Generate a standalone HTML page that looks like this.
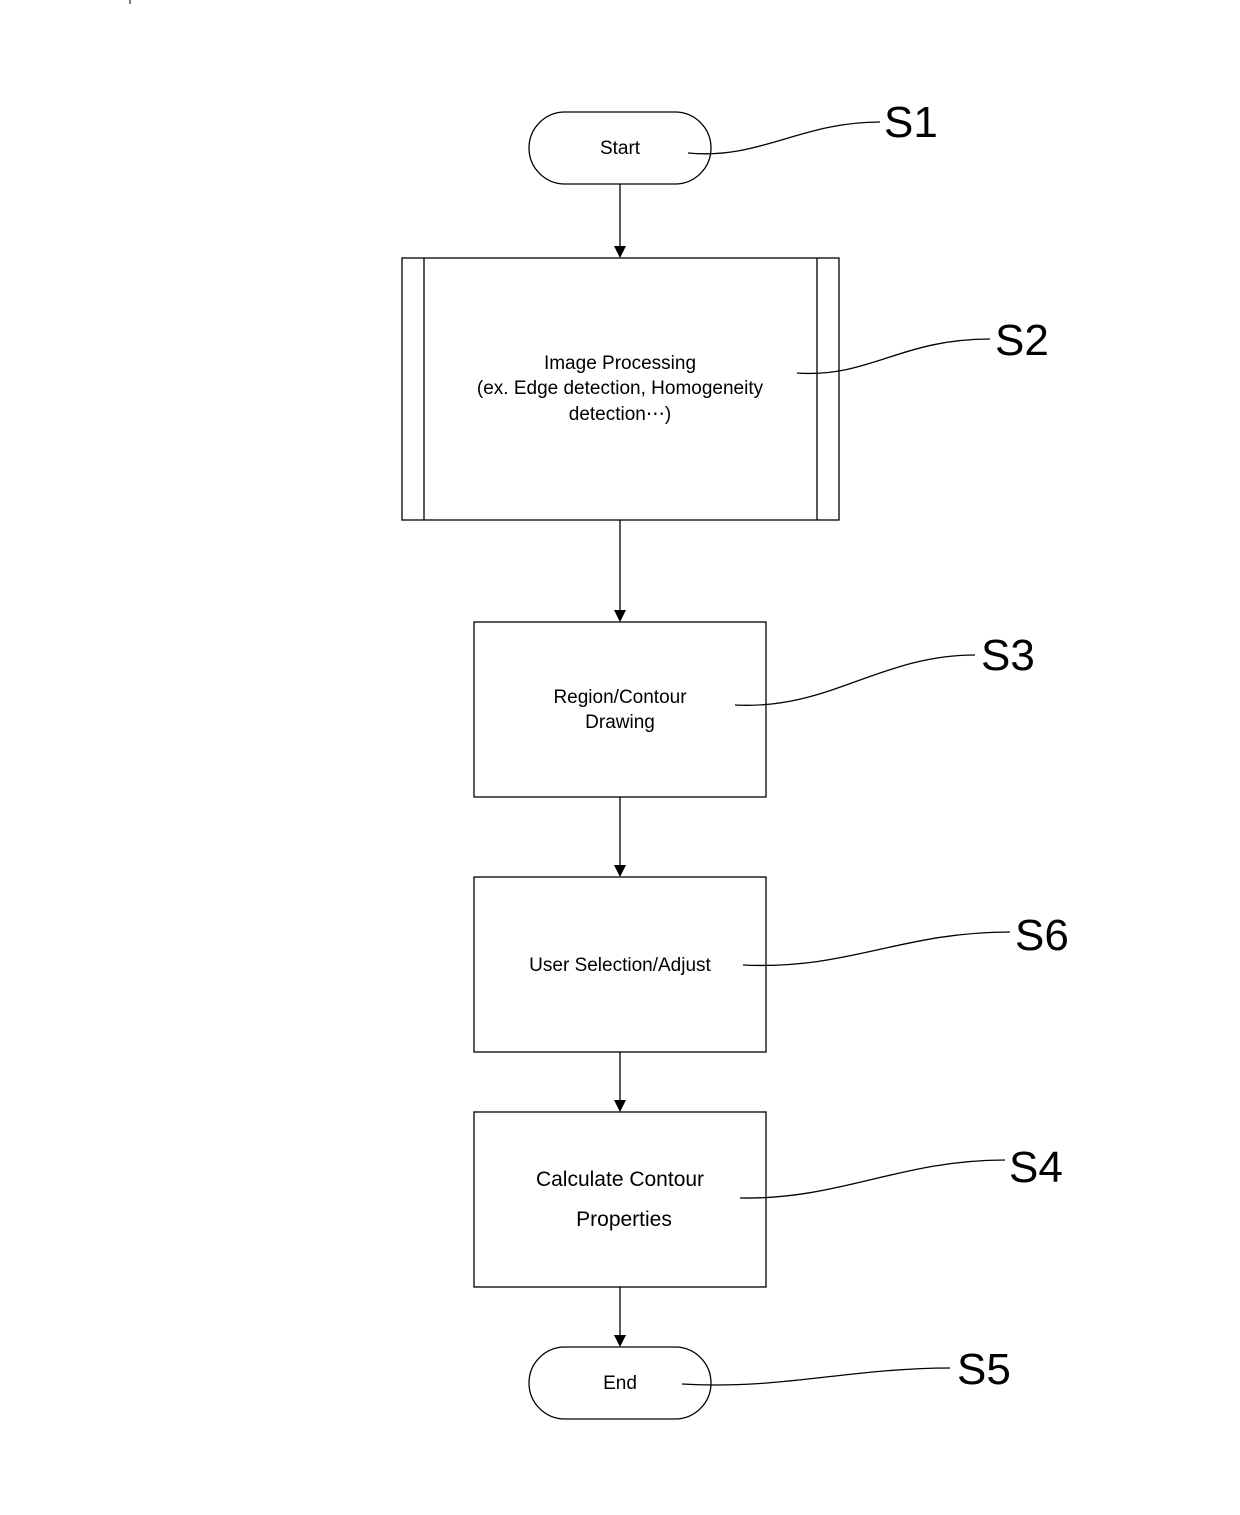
<!DOCTYPE html>
<html><head><meta charset="utf-8"><style>
html,body{margin:0;padding:0;background:#fff;}
svg{display:block;}
text{font-family:"Liberation Sans",sans-serif;fill:#000;}
</style></head><body>
<svg width="1240" height="1515" viewBox="0 0 1240 1515" xmlns="http://www.w3.org/2000/svg">
<defs><marker id="a" markerWidth="12" markerHeight="12" refX="6" refY="11" orient="auto" markerUnits="userSpaceOnUse"><path d="M0,0 L12,0 L6,11 Z" fill="#000" transform="rotate(-90 6 6) translate(0 0)"/></marker></defs>
<line x1="130" y1="0" x2="130" y2="4" stroke="#000"/>
<g fill="none" stroke="#000" stroke-width="1.3">
<rect x="529" y="112" width="182" height="72" rx="36"/>
<rect x="402" y="258" width="437" height="262"/>
<line x1="424" y1="258" x2="424" y2="520"/><line x1="817" y1="258" x2="817" y2="520"/>
<rect x="474" y="622" width="292" height="175"/>
<rect x="474" y="877" width="292" height="175"/>
<rect x="474" y="1112" width="292" height="175"/>
<rect x="529" y="1347" width="182" height="72" rx="36"/>
<line x1="620" y1="184" x2="620" y2="248"/>
<line x1="620" y1="520" x2="620" y2="612"/>
<line x1="620" y1="797" x2="620" y2="867"/>
<line x1="620" y1="1052" x2="620" y2="1102"/>
<line x1="620" y1="1287" x2="620" y2="1337"/>
<path d="M688,153 C760,160 800,122 880,122"/>
<path d="M797,373 C870,378 900,339 990,339"/>
<path d="M735,705 C830,710 880,655 975,655"/>
<path d="M743,965 C850,970 900,932 1010,932"/>
<path d="M740,1198 C840,1200 900,1160 1005,1160"/>
<path d="M682,1384 C780,1390 850,1368 950,1368"/>
</g>
<g fill="#000">
<path d="M614,246 L626,246 L620,258 Z"/>
<path d="M614,610 L626,610 L620,622 Z"/>
<path d="M614,865 L626,865 L620,877 Z"/>
<path d="M614,1100 L626,1100 L620,1112 Z"/>
<path d="M614,1335 L626,1335 L620,1347 Z"/>
</g>
<g text-anchor="middle" font-size="19">
<text x="620" y="154">Start</text>
<text x="620" y="369">Image Processing</text>
<text x="620" y="394">(ex. Edge detection, Homogeneity</text>
<text x="620" y="420">detection⋯)</text>
<text x="620" y="703">Region/Contour</text>
<text x="620" y="728">Drawing</text>
<text x="620" y="971">User Selection/Adjust</text>
<text x="620" y="1186" font-size="21">Calculate Contour</text>
<text x="624" y="1226" font-size="21">Properties</text>
<text x="620" y="1389">End</text>
</g>
<g font-size="44">
<text x="884" y="137">S1</text>
<text x="995" y="355">S2</text>
<text x="981" y="670">S3</text>
<text x="1015" y="950">S6</text>
<text x="1009" y="1182">S4</text>
<text x="957" y="1384">S5</text>
</g>
</svg>
</body></html>
